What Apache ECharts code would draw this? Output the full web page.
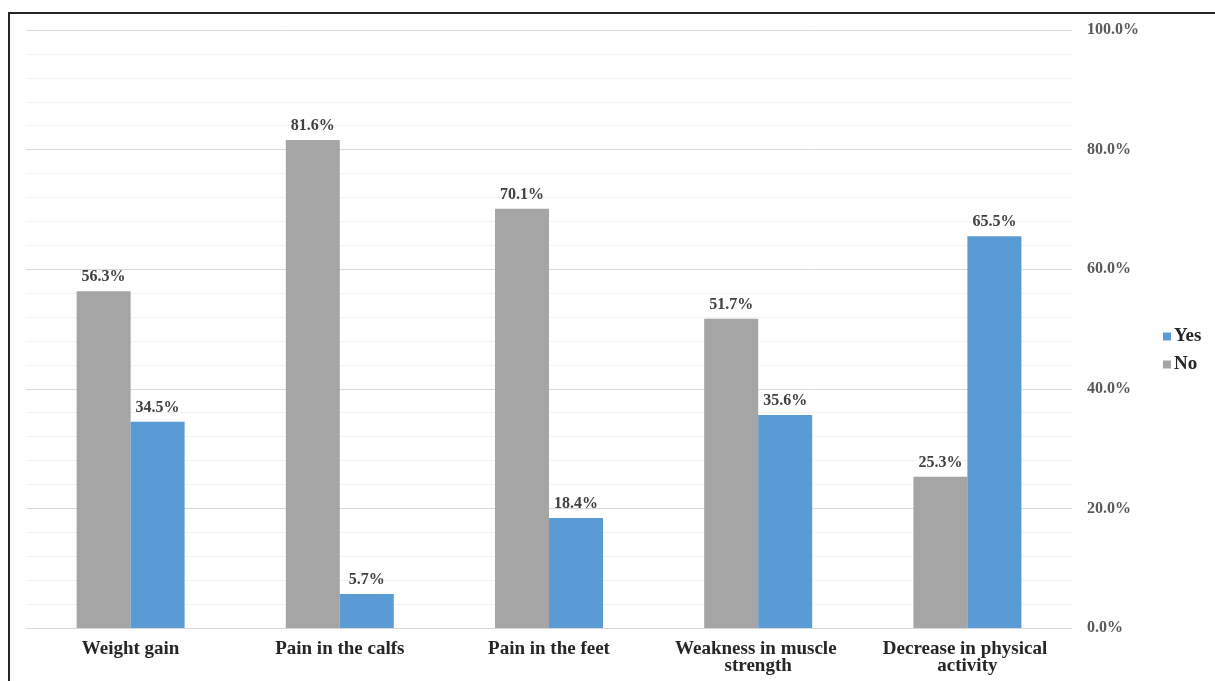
<!DOCTYPE html>
<html>
<head>
<meta charset="utf-8">
<script src="https://cdn.jsdelivr.net/npm/echarts@6/dist/echarts.min.js"></script>
<style>
html,body{margin:0;padding:0;background:#fff;}
#chart{position:absolute;left:0;top:0;width:1215px;height:681px;}
#frame{position:absolute;left:8px;top:12px;width:1215px;height:700px;border-left:2px solid #262626;border-top:2px solid #262626;pointer-events:none;}
</style>
</head>
<body>
<div id="chart"></div>
<div id="frame"></div>
<script>
const categories = ['Weight gain', 'Pain in the calfs', 'Pain in the feet', 'Weakness in muscle strength', 'Decrease in physical activity'];
const noValues = [56.3, 81.6, 70.1, 51.7, 25.3];
const yesValues = [34.5, 5.7, 18.4, 35.6, 65.5];
const yTicks = [0, 20, 40, 60, 80, 100];

const font = '"Liberation Serif", "Times New Roman", serif';
const chart = echarts.init(document.getElementById('chart'));
const labelStyle = {
  show: true, position: 'top', distance: 6,
  formatter: p => p.value.toFixed(1) + '%',
  fontFamily: font, fontWeight: 'bold', fontSize: 16, color: '#404040'
};
chart.setOption({
  animation: false,
  grid: {left: 26, right: 143, top: 30, bottom: 53},
  legend: {
    data: ['Yes', 'No'], orient: 'vertical', left: 1158, top: 322,
    icon: 'rect', itemWidth: 8, itemHeight: 8, itemGap: 9,
    textStyle: {fontFamily: font, fontWeight: 'bold', fontSize: 19, color: '#262626', padding: [0,0,0,-2]}
  },
  xAxis: {
    type: 'category', data: categories,
    axisLine: {lineStyle: {color: '#d9d9d9', width: 1}},
    axisTick: {show: false},
    axisLabel: {
      interval: 0, margin: 13, width: 185, overflow: 'break', lineHeight: 17,
      fontFamily: font, fontWeight: 'bold', fontSize: 19, color: '#262626'
    }
  },
  yAxis: {
    type: 'value', position: 'right', min: yTicks[0], max: yTicks[yTicks.length-1], interval: 20,
    axisLine: {show: false}, axisTick: {show: false},
    axisLabel: {
      margin: 15, formatter: v => v.toFixed(1) + '%',
      fontFamily: font, fontWeight: 'bold', fontSize: 16, color: '#595959'
    },
    splitLine: {lineStyle: {color: '#d9d9d9', width: 1}},
    minorTick: {show: false, splitNumber: 5},
    minorSplitLine: {show: true, lineStyle: {color: '#f2f2f2', width: 1}}
  },
  series: [
    {name: 'No', type: 'bar', data: noValues, barWidth: 54, barGap: '0%',
     itemStyle: {color: '#A5A5A5'}, label: labelStyle},
    {name: 'Yes', type: 'bar', data: yesValues, barWidth: 54, barGap: '0%',
     itemStyle: {color: '#5B9BD5'}, label: labelStyle}
  ]
});
</script>
</body>
</html>
